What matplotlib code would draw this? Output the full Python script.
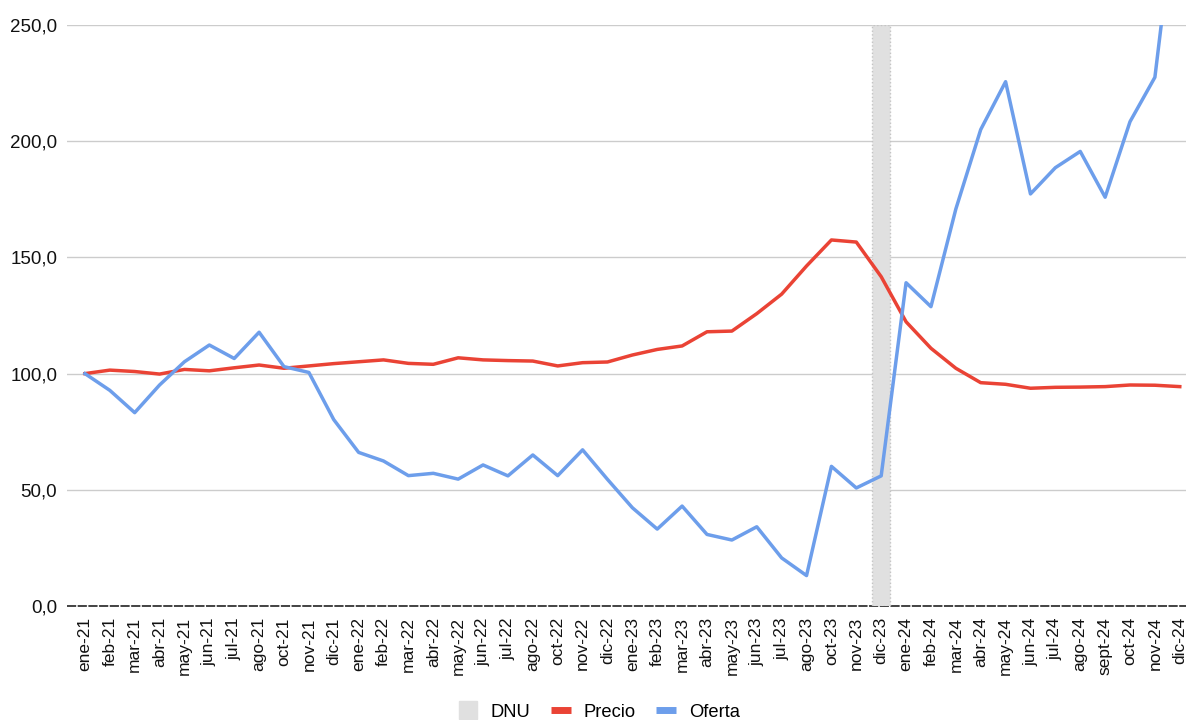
import matplotlib
matplotlib.use('Agg')
import matplotlib.pyplot as plt
from matplotlib.lines import Line2D
from matplotlib.ticker import FuncFormatter

plt.rcParams['font.family'] = ['Liberation Sans', 'DejaVu Sans']

# Datos
meses = ['ene-21', 'feb-21', 'mar-21', 'abr-21', 'may-21', 'jun-21', 'jul-21', 'ago-21',
         'oct-21', 'nov-21', 'dic-21',
         'ene-22', 'feb-22', 'mar-22', 'abr-22', 'may-22', 'jun-22', 'jul-22', 'ago-22',
         'oct-22', 'nov-22', 'dic-22',
         'ene-23', 'feb-23', 'mar-23', 'abr-23', 'may-23', 'jun-23', 'jul-23', 'ago-23',
         'oct-23', 'nov-23', 'dic-23',
         'ene-24', 'feb-24', 'mar-24', 'abr-24', 'may-24', 'jun-24', 'jul-24', 'ago-24',
         'sept-24', 'oct-24', 'nov-24', 'dic-24']

precio = [100.0, 101.5, 100.9, 99.8, 101.8, 101.2, 102.5, 103.7, 102.3, 103.3, 104.3,
          105.1, 105.9, 104.4, 104.0, 106.8, 105.9, 105.6, 105.4, 103.3, 104.7, 105.0,
          108.0, 110.4, 111.9, 118.0, 118.3, 125.8, 134.2, 146.3, 157.5, 156.6, 141.7,
          122.3, 110.9, 102.3, 96.1, 95.4, 93.7, 94.1, 94.2, 94.4, 95.1, 95.0, 94.4]

oferta = [100.0, 92.8, 83.2, 95.1, 105.1, 112.3, 106.5, 117.8, 103.0, 100.5, 80.2,
          66.1, 62.4, 56.1, 57.1, 54.6, 60.7, 56.0, 65.0, 56.1, 67.2, 54.5,
          42.3, 33.1, 43.0, 30.8, 28.4, 34.1, 20.7, 13.1, 60.1, 50.8, 56.0,
          139.1, 128.8, 170.8, 205.0, 225.6, 177.3, 188.6, 195.6, 175.9, 208.4, 227.5, 316.0]

dnu_mes = 'dic-23'
dnu_valor = 250

x = list(range(len(meses)))

fig = plt.figure(figsize=(11.86, 7.2), dpi=100)
ax = fig.add_axes([0.0565, 0.1583, 0.9435, 0.807])

ax.bar(meses.index(dnu_mes), dnu_valor, width=0.72, color='#e0e0e0',
       edgecolor='#c4c4c4', linestyle=':', linewidth=1, zorder=1.5)
ax.plot(x, precio, color='#ea4335', lw=2.5, zorder=3)
ax.plot(x, oferta, color='#6d9eeb', lw=2.5, zorder=4)

ax.set_ylim(0, 250)
ax.set_xlim(-0.72, 44.25)
ax.set_yticks([0, 50, 100, 150, 200, 250])
ax.yaxis.set_major_formatter(FuncFormatter(lambda v, p: f'{v:.1f}'.replace('.', ',')))
ax.grid(axis='y', color='#cccccc', lw=1, zorder=0)
ax.set_axisbelow(True)
ax.axhline(0, color='#111111', lw=1.1, ls=(0, (6, 1)), zorder=1, clip_on=False)

ax.set_xticks(x)
ax.set_xticklabels(meses, rotation=90)
ax.tick_params(axis='both', length=0, colors='#111111')
ax.tick_params(axis='x', pad=8, labelsize=12.5)
ax.tick_params(axis='y', pad=7, labelsize=13.5)
for s in ax.spines.values():
    s.set_visible(False)

handles = [
    Line2D([], [], marker='s', markersize=13, color='#e0e0e0', linestyle='none'),
    Line2D([], [], color='#ea4335', lw=5, solid_capstyle='butt'),
    Line2D([], [], color='#6d9eeb', lw=5, solid_capstyle='butt'),
]
fig.legend(handles, ['DNU', 'Precio', 'Oferta'], loc='center', ncol=3,
           bbox_to_anchor=(0.505, 0.011), frameon=False, fontsize=13.2,
           handlelength=1.1, columnspacing=1.1, handletextpad=0.7)

fig.savefig('out.png', dpi=100)
